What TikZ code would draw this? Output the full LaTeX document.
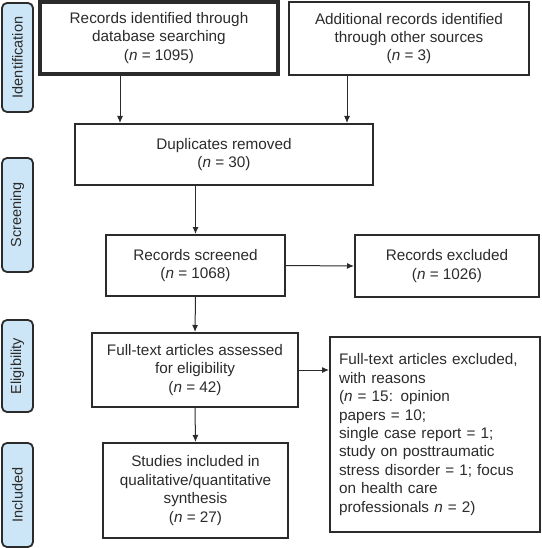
\documentclass[tikz,border=0pt]{standalone}
\usepackage{fontspec}
\setmainfont{Liberation Sans}
\usepackage{tikz}
\usetikzlibrary{arrows.meta}
\definecolor{StageBlue}{HTML}{CDE6F7}
\definecolor{InkGray}{HTML}{2B2B2B}

\tikzset{
  flowbox/.style={draw=InkGray, line width=2pt, align=center, inner sep=2pt,
    font=\fontsize{15.3}{18.4}\selectfont, text=InkGray},
  stage/.style={draw=InkGray, line width=1.8pt, fill=StageBlue, rounded corners=5pt,
    minimum height=31pt, rotate=90, font=\fontsize{14.5}{16}\selectfont, text=InkGray},
  flow/.style={draw=InkGray, line width=1pt, -{Latex[length=7pt,width=6pt]}}
}

\begin{document}
\begin{tikzpicture}[x=1pt, y=-1pt]
      \useasboundingbox (0,0) rectangle (541,548);
      % phase labels on the left
      \node[stage, minimum width=109pt] (ident) at (17.5,57.5) {Identification};
      \node[stage, minimum width=114pt] (screen) at (17.5,215) {Screening};
      \node[stage, minimum width=92pt] (elig) at (17.5,366) {Eligibility};
      \node[stage, minimum width=104pt] (inclst) at (17.5,495) {Included};
      % boxes
      \node[flowbox, line width=3.6pt, minimum width=238pt, minimum height=72pt] (dbrec) at (159,38)
        {Records identified through\\database searching\\(\textit{n} = 1095)};
      \node[flowbox, minimum width=240pt, minimum height=73pt] (otherrec) at (409,38.5)
        {Additional records identified\\through other sources\\(\textit{n} = 3)};
      \node[flowbox, minimum width=298pt, minimum height=61pt] (dup) at (224,154.5)
        {Duplicates removed\\(\textit{n} = 30)};
      \node[flowbox, minimum width=179pt, minimum height=61pt] (scr) at (195.5,265.5)
        {Records screened\\(\textit{n} = 1068)};
      \node[flowbox, minimum width=184pt, minimum height=62pt] (scrx) at (447,266)
        {Records excluded\\(\textit{n} = 1026)};
      \node[flowbox, minimum width=206pt, minimum height=74pt] (full) at (195,370)
        {Full-text articles assessed\\for eligibility\\(\textit{n} = 42)};
      \node[flowbox, minimum width=210pt, minimum height=195pt, align=left, text width=192pt] (fullx) at (435,434.5)
        {Full-text articles excluded,\\with reasons\\(\textit{n} = 15: opinion\\papers = 10;\\single case report = 1;\\study on posttraumatic\\stress disorder = 1; focus\\on health care\\professionals \textit{n} = 2)};
      \node[flowbox, minimum width=185pt, minimum height=95pt] (incl) at (195.5,490.5)
        {Studies included in\\qualitative/quantitative\\synthesis\\(\textit{n} = 27)};
      % arrows
      \draw[flow] ([xshift=-39pt]dbrec.south) -- ([xshift=-39pt]dbrec.south |- dup.north);
      \draw[flow] ([xshift=-62pt]otherrec.south) -- ([xshift=-62pt]otherrec.south |- dup.north);
      \draw[flow] (scr.north |- dup.south) -- (scr.north);
      \draw[flow] (scr.east) -- (scrx.west);
      \draw[flow] (scr.south) -- (full.north);
      \draw[flow] (full.east) -- (full.east -| fullx.west);
      \draw[flow] (full.south) -- (incl.north);
    \end{tikzpicture}
\end{document}
